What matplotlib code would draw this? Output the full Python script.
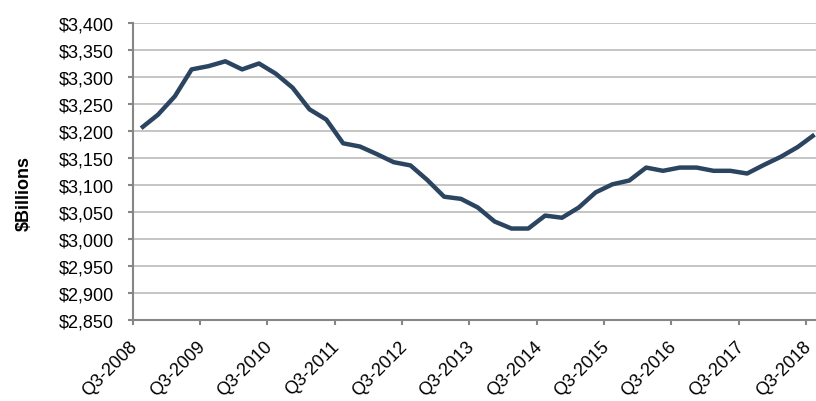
import numpy as np
import matplotlib.pyplot as plt
from matplotlib.ticker import FuncFormatter

## Quarterly values, Q3-2008 .. Q3-2018 ($Billions)
years = list(range(2008, 2019))
values = [3205, 3230, 3264, 3314, 3320, 3329, 3314, 3325, 3306, 3280,
          3240, 3221, 3177, 3171, 3157, 3142, 3136, 3109, 3078, 3074,
          3058, 3032, 3019, 3019, 3043, 3039, 3058, 3086, 3101, 3108,
          3132, 3126, 3132, 3132, 3126, 3126, 3121, 3137, 3152, 3170,
          3193]
tick_labels = [f"Q3-{y}" for y in years]

plt.rcParams['font.family'] = ['Liberation Sans', 'DejaVu Sans']

fig = plt.figure(figsize=(8.16, 4.02), dpi=100)
ax = fig.add_axes([132.7 / 816, 1 - 320.7 / 402, 1 - 132.7 / 816, (320.7 - 24) / 402])

x = np.arange(len(values))
ax.plot(x, values, color='#2b4460', linewidth=3.2, solid_capstyle='butt',
        solid_joinstyle='round', zorder=3, clip_on=False)

ax.set_ylim(2850, 3400)
ax.set_yticks(np.arange(2850, 3401, 50))
ax.yaxis.set_major_formatter(FuncFormatter(lambda v, p: f"${v:,.0f}"))
ax.set_xlim(-0.5, 40.09)

# labels sit on every 4th category, tick marks between categories
ax.set_xticks(x[::4])
ax.set_xticklabels(tick_labels, rotation=45, ha='right', va='top')
ax.set_xticks(np.arange(-0.5, 41, 4), minor=True)
ax.tick_params(axis='x', which='major', length=0, pad=13, labelsize=13, colors='#000000')
ax.tick_params(axis='x', which='minor', length=3.6, width=1.5, color='#868686')
ax.tick_params(axis='y', length=3.6, width=1.5, color='#868686', pad=10, labelsize=13)

ax.grid(axis='y', color='#c0c0c0', linewidth=1.3)
ax.set_axisbelow(True)
for s in ['top', 'right']:
    ax.spines[s].set_visible(False)
for s in ['left', 'bottom']:
    ax.spines[s].set_color('#868686')
    ax.spines[s].set_linewidth(1.5)

fig.text(24 / 816, 1 - 194 / 402, '$Billions', rotation=90, ha='center', va='center',
         fontsize=13, fontweight='bold')

fig.savefig('out.png', dpi=100)
